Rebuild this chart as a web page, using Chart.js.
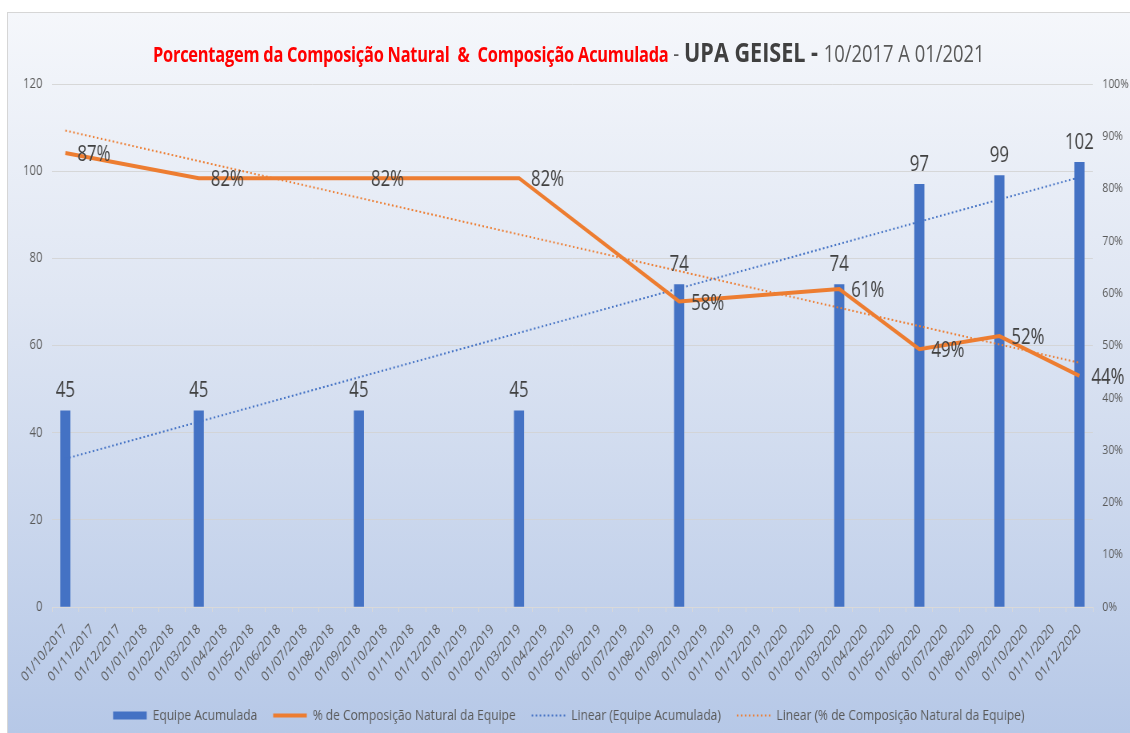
<!DOCTYPE html>
<html>
<head>
<meta charset="utf-8">
<script src="https://cdn.jsdelivr.net/npm/chart.js@4.4.0/dist/chart.umd.min.js"></script>
<style>
  html, body { margin: 0; padding: 0; background: #fff; overflow: hidden; }
  #quadro {
    position: absolute; left: 7px; top: 12px; width: 1122px; height: 720px;
    border-top: 1px solid #d6d6d6; border-left: 1px solid #d6d6d6;
    background: linear-gradient(to bottom, #f5f7fb 0%, #dfe6f3 40%, #b6c8e7 100%);
    overflow: hidden;
  }
  /* o grafico original tem letras estreitas: desenha largo e comprime */
  #palco {
    position: absolute; left: 0; top: 0; width: 1402px; height: 720px;
    transform: scaleX(0.8); transform-origin: 0 0;
  }
  #titulo {
    position: absolute; top: 20px; left: 0; width: 100%; text-align: center;
    font-family: 'Open Sans', sans-serif;
    white-space: nowrap;
  }
  #titulo .r { color: #ff0000; font-size: 20.5px; font-weight: bold; letter-spacing: -0.3px; }
  #titulo .g { color: #595959; font-size: 23px; }
  #titulo .b { color: #404040; font-size: 27px; font-weight: bold; }
  canvas { position: absolute; left: 0; top: 0; }
</style>
</head>
<body>
<div id="quadro">
  <div id="palco">
    <canvas id="grafico" width="1402" height="720"></canvas>
    <div id="titulo"><span class="r">Porcentagem da Composição Natural &nbsp;&amp;&nbsp; Composição Acumulada</span><span class="g"> - </span><span class="b">UPA GEISEL - </span><span class="g">10/2017 A 01/2021</span></div>
  </div>
</div>
<script>
const meses = [
  '01/10/2017', '01/11/2017', '01/12/2017', '01/01/2018', '01/02/2018', '01/03/2018',
  '01/04/2018', '01/05/2018', '01/06/2018', '01/07/2018', '01/08/2018', '01/09/2018',
  '01/10/2018', '01/11/2018', '01/12/2018', '01/01/2019', '01/02/2019', '01/03/2019',
  '01/04/2019', '01/05/2019', '01/06/2019', '01/07/2019', '01/08/2019', '01/09/2019',
  '01/10/2019', '01/11/2019', '01/12/2019', '01/01/2020', '01/02/2020', '01/03/2020',
  '01/04/2020', '01/05/2020', '01/06/2020', '01/07/2020', '01/08/2020', '01/09/2020',
  '01/10/2020', '01/11/2020', '01/12/2020'
];

// equipe acumulada (eixo esquerdo)
const equipeAcumulada = [
  45, null, null, null, null, 45, null, null, null, null, null, 45,
  null, null, null, null, null, 45, null, null, null, null, null, 74,
  null, null, null, null, null, 74, null, null, 97, null, null, 99,
  null, null, 102
];

// % de composicao natural (eixo direito)
const composicaoNatural = [
  86.8, null, null, null, null, 82, null, null, null, null, null, 82,
  null, null, null, null, null, 82, null, null, null, null, null, 58.4,
  null, null, null, null, null, 60.8, null, null, 49.3, null, null, 51.8,
  null, null, 44.2
];

// linhas de tendencia: valor no primeiro e no ultimo mes
const tendenciaEquipe = [34, 98.6];
const tendenciaComposicao = [91.1, 46.7];

const ticksPct = [0, 10, 20, 30, 40, 50, 60, 70, 80, 90, 100];

const fonte = "'Open Sans', sans-serif";
const azul = '#4472c4';
const laranja = '#ed7d31';

const rotulos = {
  id: 'rotulos',
  afterDatasetsDraw(chart) {
    const ctx = chart.ctx;
    ctx.save();
    ctx.font = '21px ' + fonte;
    ctx.fillStyle = '#404040';
    const barras = chart.getDatasetMeta(0);
    ctx.textAlign = 'center';
    ctx.textBaseline = 'bottom';
    barras.data.forEach((el, i) => {
      if (equipeAcumulada[i] == null) return;
      ctx.fillText(String(equipeAcumulada[i]), el.x, el.y - 9);
    });
    const linha = chart.getDatasetMeta(1);
    ctx.textAlign = 'left';
    ctx.textBaseline = 'middle';
    linha.data.forEach((el, i) => {
      if (composicaoNatural[i] == null) return;
      ctx.fillText(Math.round(composicaoNatural[i]) + '%', el.x + 15, el.y + 2);
    });
    ctx.restore();
  }
};

new Chart(document.getElementById('grafico'), {
  type: 'bar',
  data: {
    labels: meses,
    datasets: [
      {
        type: 'bar',
        label: 'Equipe Acumulada',
        data: equipeAcumulada,
        backgroundColor: azul,
        borderColor: azul,
        borderWidth: 0,
        barThickness: 12,
        yAxisID: 'y',
        order: 4
      },
      {
        type: 'line',
        label: '% de Composição Natural da Equipe',
        data: composicaoNatural,
        borderColor: laranja,
        backgroundColor: laranja,
        borderWidth: 4,
        pointRadius: 0,
        spanGaps: true,
        tension: 0,
        yAxisID: 'y1',
        order: 1
      },
      {
        type: 'line',
        label: 'Linear (Equipe Acumulada)',
        data: [
          { x: meses[0], y: tendenciaEquipe[0] },
          { x: meses[meses.length - 1], y: tendenciaEquipe[1] }
        ],
        borderColor: azul,
        backgroundColor: azul,
        borderWidth: 2,
        borderDash: [2, 3],
        pointRadius: 0,
        yAxisID: 'y',
        order: 2
      },
      {
        type: 'line',
        label: 'Linear (% de Composição Natural da Equipe)',
        data: [
          { x: meses[0], y: tendenciaComposicao[0] },
          { x: meses[meses.length - 1], y: tendenciaComposicao[1] }
        ],
        borderColor: laranja,
        backgroundColor: laranja,
        borderWidth: 2,
        borderDash: [2, 3],
        pointRadius: 0,
        yAxisID: 'y1',
        order: 3
      }
    ]
  },
  options: {
    responsive: false,
    animation: { duration: 0 },
    layout: { padding: { top: 71, left: 0, right: 0, bottom: 0 } },
    plugins: {
      title: { display: false },
      tooltip: { enabled: false },
      legend: {
        position: 'bottom',
        labels: {
          usePointStyle: true,
          pointStyleWidth: 42,
          boxHeight: 8,
          padding: 20,
          color: '#595959',
          font: { family: fonte, size: 15 },
          generateLabels: (chart) => chart.data.datasets.map((ds, i) => ({
            text: ds.label,
            fillStyle: ds.backgroundColor,
            strokeStyle: ds.borderColor,
            lineWidth: ds.type === 'bar' ? 0 : (ds.borderDash ? 2 : 4),
            lineDash: ds.borderDash || [],
            pointStyle: ds.type === 'bar' ? 'rect' : 'line',
            fontColor: '#595959',
            hidden: false,
            datasetIndex: i
          }))
        }
      }
    },
    scales: {
      x: {
        offset: true,
        grid: { drawOnChartArea: false, drawTicks: true, tickLength: 5, color: '#d9d9d9', offset: true },
        border: { display: true, color: '#d9d9d9' },
        ticks: {
          autoSkip: false, maxRotation: 45, minRotation: 45, padding: 9,
          color: '#595959', font: { family: fonte, size: 14 }
        },
        afterFit: (scale) => { scale.height = 81; }
      },
      y: {
        position: 'left',
        min: 0, max: 120,
        ticks: { stepSize: 20, padding: 12, color: '#595959', font: { family: fonte, size: 14 } },
        grid: { color: 'rgba(210,210,210,0.85)', drawTicks: false },
        border: { display: false },
        afterFit: (scale) => { scale.width = 55; }
      },
      y1: {
        position: 'right',
        min: 0, max: 100,
        afterBuildTicks: (scale) => { scale.ticks = ticksPct.map(v => ({ value: v })); },
        ticks: { padding: 12, color: '#595959', font: { family: fonte, size: 13 }, callback: (v) => v + '%' },
        grid: { drawOnChartArea: false, drawTicks: false },
        border: { display: false },
        afterFit: (scale) => { scale.width = 46; }
      }
    }
  },
  plugins: [rotulos]
});
</script>
</body>
</html>
